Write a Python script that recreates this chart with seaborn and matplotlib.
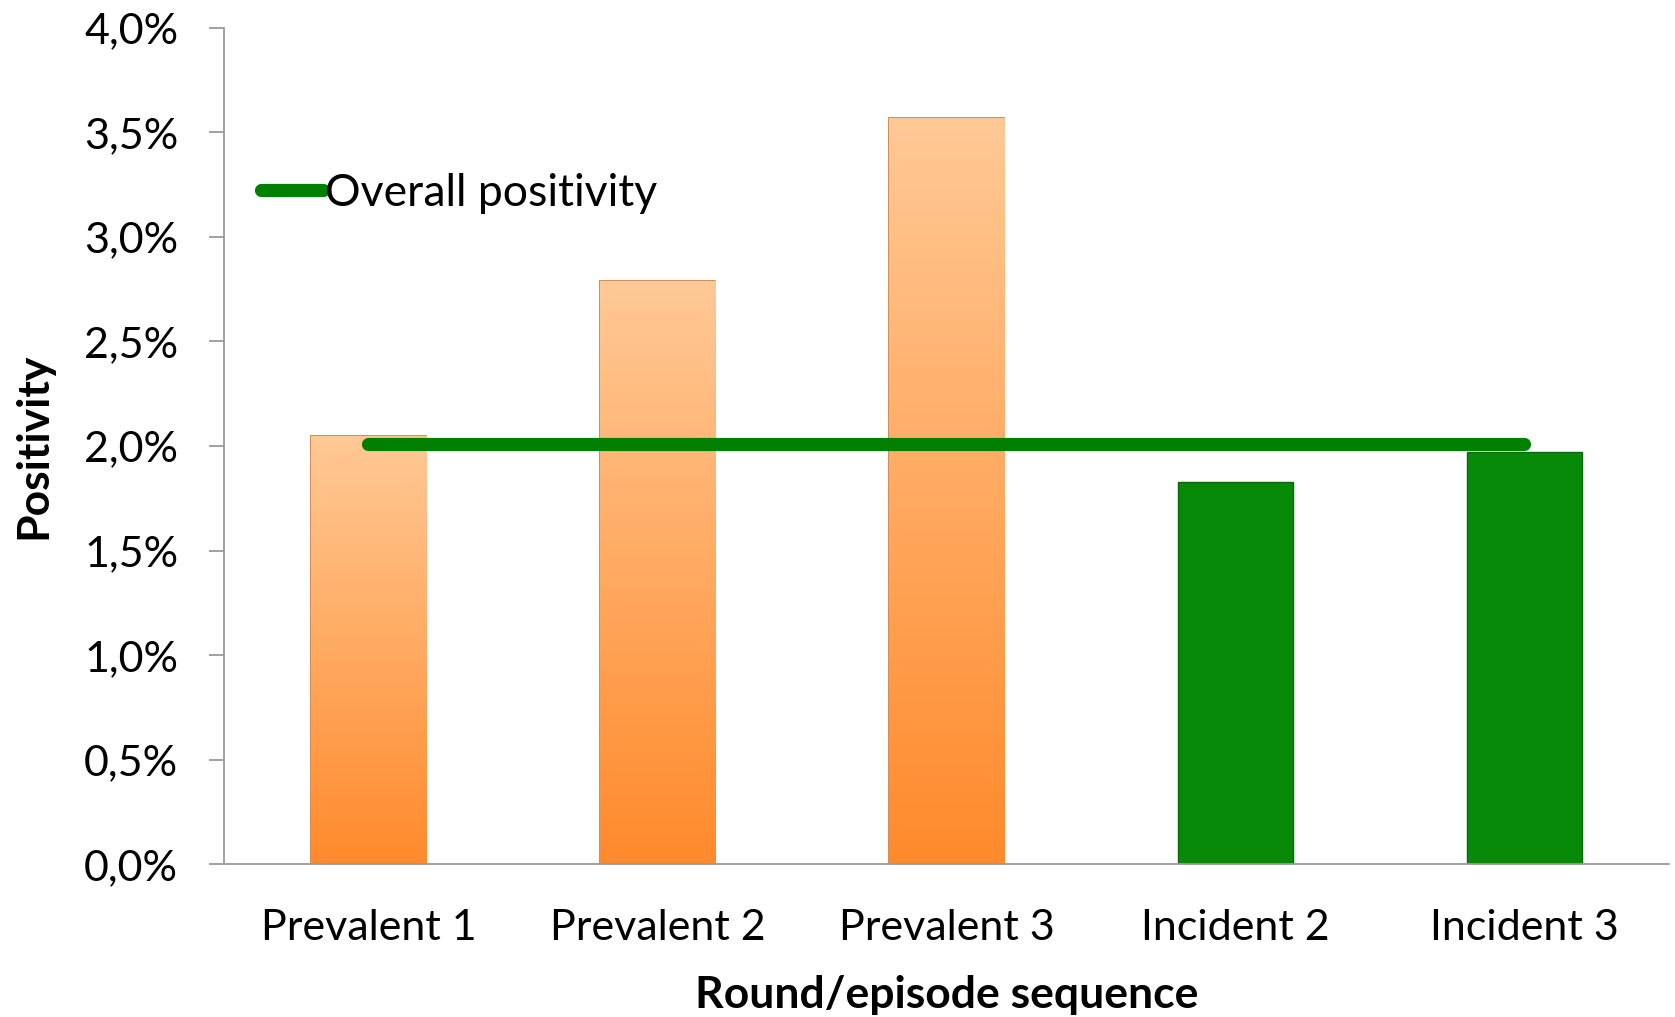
import numpy as np
import pandas as pd
import matplotlib
matplotlib.use("Agg")
import matplotlib.pyplot as plt
from matplotlib.colors import LinearSegmentedColormap
from matplotlib.ticker import FuncFormatter, MultipleLocator
import seaborn as sns

# Data (positivity, %)
categories = ["Prevalent 1", "Prevalent 2", "Prevalent 3", "Incident 2", "Incident 3"]
positivity = [2.05, 2.79, 3.57, 1.83, 1.97]
episode_type = ["Prevalent", "Prevalent", "Prevalent", "Incident", "Incident"]
overall_positivity = 2.01

df = pd.DataFrame({"round": categories, "positivity": positivity, "type": episode_type})

sns.set_style("white")
plt.rcParams["font.family"] = ["Lato", "DejaVu Sans"]
plt.rcParams["text.color"] = "black"
plt.rcParams["axes.labelcolor"] = "black"
plt.rcParams["xtick.color"] = "black"
plt.rcParams["ytick.color"] = "black"

fig = plt.figure(figsize=(16.75, 10.17), dpi=100)
ax = fig.add_axes([0.1337, 0.150, 0.8627, 0.8228])

orange_top = "#FFC996"
orange_bottom = "#FF8A2C"
green = "#078A07"

palette = {"Prevalent": orange_bottom, "Incident": green}
sns.barplot(data=df, x="round", y="positivity", hue="type", palette=palette,
            dodge=False, width=0.40, saturation=1, legend=False, ax=ax, zorder=2)

# gradient fill on the prevalent bars
cmap = LinearSegmentedColormap.from_list("org", [orange_bottom, orange_top])
grad = np.linspace(0, 1, 256).reshape(-1, 1)
bars = [p for p in ax.patches if p.get_height() > 0]
bars.sort(key=lambda p: p.get_x())
for patch, kind in zip(bars, df["type"]):
    x0, y0 = patch.get_x(), patch.get_y()
    w, h = patch.get_width(), patch.get_height()
    if kind == "Prevalent":
        patch.set_edgecolor("#C9783A")
        patch.set_linewidth(1.2)
        im = ax.imshow(grad, cmap=cmap, aspect="auto", origin="lower",
                       extent=[x0, x0 + w, y0, y0 + h], zorder=2.5)
        im.set_clip_path(patch)
    else:
        patch.set_edgecolor("#0A6A0A")
        patch.set_linewidth(1.0)

# overall positivity line from first to last category
line_df = pd.DataFrame({"x": [0, len(categories) - 1],
                        "y": [overall_positivity, overall_positivity]})
sns.lineplot(data=line_df, x="x", y="y", color="#007F00", linewidth=9.5,
             solid_capstyle="round", ax=ax, zorder=3, label="Overall positivity")

ax.set_xlim(-0.5, len(categories) - 0.5)
ax.set_ylim(0, 4.0)
ax.yaxis.set_major_locator(MultipleLocator(0.5))
ax.yaxis.set_major_formatter(FuncFormatter(lambda v, p: f"{v:.1f}%".replace(".", ",")))

ax.set_xticks(range(len(categories)))
ax.set_xticklabels(categories)
ax.set_xticks(np.arange(-0.5, len(categories), 1.0), minor=True)
ax.tick_params(axis="x", which="major", length=0, pad=32, labelsize=31)
ax.tick_params(axis="x", which="minor", length=11, width=1.3, color="#999999", direction="out")
ax.tick_params(axis="y", which="major", length=11, width=1.3, color="#999999",
               direction="out", labelsize=31, pad=22, left=True)

for s in ["top", "right"]:
    ax.spines[s].set_visible(False)
for s in ["left", "bottom"]:
    ax.spines[s].set_color("#999999")
    ax.spines[s].set_linewidth(1.3)

ax.set_xlabel("Round/episode sequence", fontsize=32, fontweight="bold", labelpad=20)
ax.set_ylabel("Positivity", fontsize=32, fontweight="bold", labelpad=22)

leg = ax.legend(loc="upper left", bbox_to_anchor=(0.013, 0.848), frameon=False,
                fontsize=32, handlelength=1.4, handletextpad=0.05, borderaxespad=0)

fig.savefig("out.png", dpi=100)
